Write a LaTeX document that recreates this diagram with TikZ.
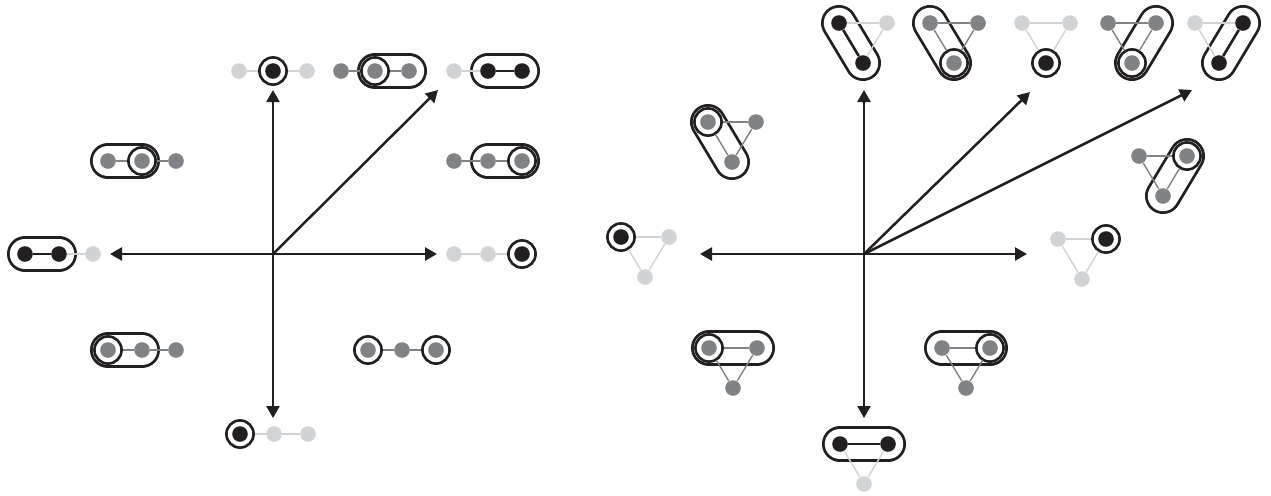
\documentclass[tikz,border=0pt]{standalone}
\usepackage{tikz}
\usetikzlibrary{positioning,arrows.meta,backgrounds}

\definecolor{ink}{HTML}{231F20}
\definecolor{mid}{HTML}{808285}
\definecolor{lite}{HTML}{D1D3D4}

\tikzset{
    bead/.style={circle, inner sep=0pt, minimum size=7.8pt, fill=#1},
    ring/.style={circle, inner sep=0pt, minimum size=13.6pt, draw=ink, line width=1.3pt, fill=white,
        path picture={\fill[#1] (path picture bounding box.center) circle[radius=3.9pt];}},
    link/.style={draw=#1, line width=0.7pt},
    bond/.style={draw=ink, line width=1.3pt},
    pod/.style={draw=ink, line width=1.4pt, double=white, double distance=15.2pt, line cap=round},
    ray/.style={->, draw=ink, line width=1.25pt}
}

\begin{document}
\begin{tikzpicture}[x=0.5pt,y=-0.5pt,node distance=17pt,on grid,>={Triangle[length=6pt,width=6.5pt]}]
    \useasboundingbox (0,0) rectangle (1271,495);

    % left panel: chains of three
    \node[bead=lite] (l1a) at (239,71) {};
    \node[ring=ink] (l1b) [right=of l1a] {};
    \node[bead=lite] (l1c) [right=of l1b] {};

    \node[bead=mid] (l2a) at (341,71) {};
    \node[ring=mid] (l2b) [right=of l2a] {};
    \node[bead=mid] (l2c) [right=of l2b] {};

    \node[bead=lite] (l3a) at (454,71) {};
    \node[bead=ink] (l3b) [right=of l3a] {};
    \node[bead=ink] (l3c) [right=of l3b] {};

    \node[bead=mid] (l4a) at (108,161) {};
    \node[ring=mid] (l4b) [right=of l4a] {};
    \node[bead=mid] (l4c) [right=of l4b] {};

    \node[bead=ink] (l5a) at (25,254) {};
    \node[bead=ink] (l5b) [right=of l5a] {};
    \node[bead=lite] (l5c) [right=of l5b] {};

    \node[bead=mid] (l6a) at (454,161) {};
    \node[bead=mid] (l6b) [right=of l6a] {};
    \node[ring=mid] (l6c) [right=of l6b] {};

    \node[bead=lite] (l7a) at (454,254) {};
    \node[bead=lite] (l7b) [right=of l7a] {};
    \node[ring=ink] (l7c) [right=of l7b] {};

    \node[ring=mid] (l8a) at (108,350) {};
    \node[bead=mid] (l8b) [right=of l8a] {};
    \node[bead=mid] (l8c) [right=of l8b] {};

    \node[ring=mid] (l9a) at (368,350) {};
    \node[bead=mid] (l9b) [right=of l9a] {};
    \node[ring=mid] (l9c) [right=of l9b] {};

    \node[ring=ink] (l10a) at (240,434) {};
    \node[bead=lite] (l10b) [right=of l10a] {};
    \node[bead=lite] (l10c) [right=of l10b] {};

    % right panel: triangles
    \node[ring=mid] (r1a) at (708,122) {};
    \node[bead=mid] (r1b) [right=24pt of r1a] {};
    \node[bead=mid] (r1c) [below right=20pt and 12pt of r1a] {};

    \node[ring=ink] (r2a) at (621,237) {};
    \node[bead=lite] (r2b) [right=24pt of r2a] {};
    \node[bead=lite] (r2c) [below right=20pt and 12pt of r2a] {};

    \node[bead=ink] (r3a) at (839,23) {};
    \node[bead=lite] (r3b) [right=24pt of r3a] {};
    \node[bead=ink] (r3c) [below right=20pt and 12pt of r3a] {};

    \node[bead=mid] (r4a) at (930,23) {};
    \node[bead=mid] (r4b) [right=24pt of r4a] {};
    \node[ring=mid] (r4c) [below right=20pt and 12pt of r4a] {};

    \node[bead=lite] (r5a) at (1022,23) {};
    \node[bead=lite] (r5b) [right=24pt of r5a] {};
    \node[ring=ink] (r5c) [below right=20pt and 12pt of r5a] {};

    \node[bead=mid] (r6a) at (1108,23) {};
    \node[bead=mid] (r6b) [right=24pt of r6a] {};
    \node[ring=mid] (r6c) [below right=20pt and 12pt of r6a] {};

    \node[bead=lite] (r7a) at (1195,23) {};
    \node[bead=ink] (r7b) [right=24pt of r7a] {};
    \node[bead=ink] (r7c) [below right=20pt and 12pt of r7a] {};

    \node[bead=mid] (r8a) at (1139,156) {};
    \node[ring=mid] (r8b) [right=24pt of r8a] {};
    \node[bead=mid] (r8c) [below right=20pt and 12pt of r8a] {};

    \node[bead=lite] (r9a) at (1058,239) {};
    \node[ring=ink] (r9b) [right=24pt of r9a] {};
    \node[bead=lite] (r9c) [below right=20pt and 12pt of r9a] {};

    \node[ring=mid] (r10a) at (709,348) {};
    \node[bead=mid] (r10b) [right=24pt of r10a] {};
    \node[bead=mid] (r10c) [below right=20pt and 12pt of r10a] {};

    \node[bead=mid] (r11a) at (942,348) {};
    \node[ring=mid] (r11b) [right=24pt of r11a] {};
    \node[bead=mid] (r11c) [below right=20pt and 12pt of r11a] {};

    \node[bead=ink] (r12a) at (840,444) {};
    \node[bead=ink] (r12b) [right=24pt of r12a] {};
    \node[bead=lite] (r12c) [below right=20pt and 12pt of r12a] {};

    % pods behind the beads
    \begin{scope}[on background layer]
        \draw[pod] (l2b.center) -- (l2c.center);
        \draw[pod] (l3b.center) -- (l3c.center);
        \draw[pod] (l4a.center) -- (l4b.center);
        \draw[pod] (l5a.center) -- (l5b.center);
        \draw[pod] (l6b.center) -- (l6c.center);
        \draw[pod] (l8a.center) -- (l8b.center);
        \draw[pod] (r1a.center) -- (r1c.center);
        \draw[pod] (r3a.center) -- (r3c.center);
        \draw[pod] (r4a.center) -- (r4c.center);
        \draw[pod] (r6b.center) -- (r6c.center);
        \draw[pod] (r7b.center) -- (r7c.center);
        \draw[pod] (r8b.center) -- (r8c.center);
        \draw[pod] (r10a.center) -- (r10b.center);
        \draw[pod] (r11a.center) -- (r11b.center);
        \draw[pod] (r12a.center) -- (r12b.center);
    \end{scope}

    % links
    \path
        (l1a) edge[link=lite] (l1b)   (l1b) edge[link=lite] (l1c)
        (l2a) edge[link=mid] (l2b)    (l2b) edge[link=mid] (l2c)
        (l3a) edge[link=lite] (l3b)   (l3b) edge[bond] (l3c)
        (l4a) edge[link=mid] (l4b)    (l4b) edge[link=mid] (l4c)
        (l5a) edge[bond] (l5b)        (l5b) edge[link=lite] (l5c)
        (l6a) edge[link=mid] (l6b)    (l6b) edge[link=mid] (l6c)
        (l7a) edge[link=lite] (l7b)   (l7b) edge[link=lite] (l7c)
        (l8a) edge[link=mid] (l8b)    (l8b) edge[link=mid] (l8c)
        (l9a) edge[link=mid] (l9b)    (l9b) edge[link=mid] (l9c)
        (l10a) edge[link=lite] (l10b) (l10b) edge[link=lite] (l10c);
    \path
        (r1a) edge[link=mid] (r1b)    (r1a) edge[link=mid] (r1c)    (r1b) edge[link=mid] (r1c)
        (r2a) edge[link=lite] (r2b)   (r2a) edge[link=lite] (r2c)   (r2b) edge[link=lite] (r2c)
        (r3a) edge[link=lite] (r3b)   (r3a) edge[bond] (r3c)        (r3b) edge[link=lite] (r3c)
        (r4a) edge[link=mid] (r4b)    (r4a) edge[link=mid] (r4c)    (r4b) edge[link=mid] (r4c)
        (r5a) edge[link=lite] (r5b)   (r5a) edge[link=lite] (r5c)   (r5b) edge[link=lite] (r5c)
        (r6a) edge[link=mid] (r6b)    (r6a) edge[link=mid] (r6c)    (r6b) edge[link=mid] (r6c)
        (r7a) edge[link=lite] (r7b)   (r7a) edge[link=lite] (r7c)   (r7b) edge[bond] (r7c)
        (r8a) edge[link=mid] (r8b)    (r8a) edge[link=mid] (r8c)    (r8b) edge[link=mid] (r8c)
        (r9a) edge[link=lite] (r9b)   (r9a) edge[link=lite] (r9c)   (r9b) edge[link=lite] (r9c)
        (r10a) edge[link=mid] (r10b)  (r10a) edge[link=mid] (r10c)  (r10b) edge[link=mid] (r10c)
        (r11a) edge[link=mid] (r11b)  (r11a) edge[link=mid] (r11c)  (r11b) edge[link=mid] (r11c)
        (r12a) edge[bond] (r12b)      (r12a) edge[link=lite] (r12c) (r12b) edge[link=lite] (r12c);

    % axes
    \coordinate (o1) at (273,254);
    \coordinate (o1n) at (273,90);
    \coordinate (o1s) at (273,418);
    \coordinate (o1w) at (110,254);
    \coordinate (o1e) at (437,254);
    \coordinate (o1d) at (438,90);
    \coordinate (o2) at (864,254);
    \coordinate (o2n) at (864,90);
    \coordinate (o2s) at (864,418);
    \coordinate (o2w) at (700,254);
    \coordinate (o2e) at (1027,254);
    \coordinate (o2d) at (1030,92);
    \coordinate (o2f) at (1192,90);
    \draw[ray] (o1) -- (o1n);
    \draw[ray] (o1) -- (o1s);
    \draw[ray] (o1) -- (o1w);
    \draw[ray] (o1) -- (o1e);
    \draw[ray] (o1) -- (o1d);
    \draw[ray] (o2) -- (o2n);
    \draw[ray] (o2) -- (o2s);
    \draw[ray] (o2) -- (o2w);
    \draw[ray] (o2) -- (o2e);
    \draw[ray] (o2) -- (o2d);
    \draw[ray] (o2) -- (o2f);
\end{tikzpicture}
\end{document}
